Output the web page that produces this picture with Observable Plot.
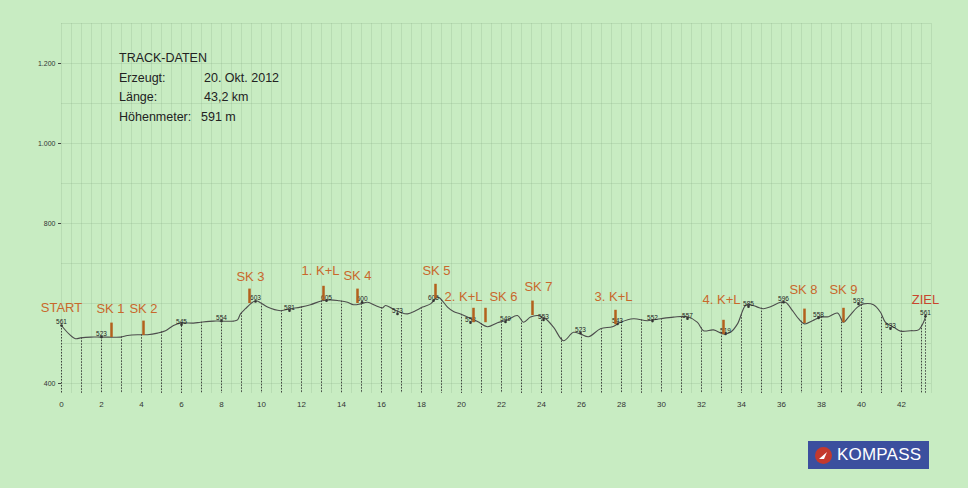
<!DOCTYPE html>
<html>
<head>
<meta charset="utf-8">
<script src="https://cdn.jsdelivr.net/npm/d3@7"></script>
<script src="https://cdn.jsdelivr.net/npm/@observablehq/plot@0.6"></script>
<style>
  html, body { margin: 0; padding: 0; background: #c8ecc2; }
  body { width: 968px; height: 488px; position: relative; overflow: hidden; font-family: "Liberation Sans", Arial, sans-serif; }
  #chart { position: absolute; left: 0; top: 0; }
  .info { position: absolute; left: 119px; top: 48px; width: 220px; color: #222; font-size: 12.5px; line-height: 20px; white-space: nowrap; }
  .info .row { position: relative; height: 19.5px; }
  .info .v { position: absolute; left: 85px; top: 0; white-space: nowrap; }
  .logo { position: absolute; left: 808px; top: 441px; width: 121px; height: 28px; background: #3b4f9e; color: #fff; }
  .logo svg { position: absolute; left: 6px; top: 5px; }
  .logo span { position: absolute; left: 29px; top: 4px; font-size: 17px; letter-spacing: 0.2px; white-space: nowrap; }
</style>
</head>
<body>
<div id="chart"></div>
<div class="info">
  <div class="row">TRACK-DATEN</div>
  <div class="row">Erzeugt:<span class="v">20. Okt. 2012</span></div>
  <div class="row">Länge:<span class="v">43,2 km</span></div>
  <div class="row">Höhenmeter:<span class="v" style="left:82px">591 m</span></div>
</div>
<div class="logo">
  <svg width="19" height="19" viewBox="0 0 19 19"><circle cx="9.5" cy="9.5" r="8.5" fill="#c4392d"/><path d="M5 13 L13 6 L10 13 Z" fill="#fff"/></svg>
  <span>KOMPASS</span>
</div>
<script>
// Elevation profile (km, m)
const profileKm = [0,0.37,0.7,0.95,1.45,1.95,2.35,2.95,3.3,3.8,4.3,4.8,5.2,5.6,5.95,6.6,6.95,7.6,7.95,8.6,8.8,8.95,9.2,9.45,9.7,9.95,10.3,10.95,11.45,11.95,12.45,13.03,13.45,13.85,14.3,14.6,14.95,15.3,15.7,16.05,16.2,16.55,16.95,17.3,17.7,18.05,18.45,18.8,18.95,19.3,19.6,19.95,20.3,20.8,21.3,21.8,22.3,22.8,23.1,23.45,23.8,24.2,24.6,25.1,25.6,25.95,26.35,26.95,27.55,27.95,28.6,29.3,29.95,30.6,31.3,31.8,32.1,32.6,33.1,33.45,33.8,34.2,34.45,34.8,35.1,35.45,35.95,36.2,36.55,36.85,37.15,37.55,37.95,38.35,38.8,39.1,39.35,39.8,40.1,40.6,40.95,41.2,41.6,41.95,42.45,42.85,43.1,43.2];
const profileElev = [545,524,512,514,516,516,516,516,520,522,522,526,532,545,551,551,553,556,556,556,559,574,587,599,607,602,591,582,587,591,597,607,609,607,603,597,599,603,595,589,595,587,578,574,582,591,599,616,612,591,580,574,566,555,542,552,559,570,553,566,570,562,541,507,528,524,517,537,542,553,562,557,562,566,567,553,532,534,524,528,549,595,597,591,587,592,603,603,582,562,549,557,566,567,576,553,566,591,599,597,578,553,541,531,532,534,553,567];

// Waypoint elevation labels
const wpKm    = [0,2,6,8,9.7,11.4,13.25,15.03,16.8,18.6,20.45,22.2,24.1,25.95,27.8,29.55,31.3,33.2,34.35,36.1,37.85,39.85,41.45,43.2];
const wpText  = ["561","523","545","554","603","581","605","600","573","605","552","549","553","523","543","552","557","519","585","596","558","592","533","561"];
const wpElev  = [553,524,555,564,613,590,615,611,582,615,560,562,567,534,557,564,570,532,600,611,572,607,545,576];

// Checkpoints (SK = Streckenkontrolle, K+L = Kontrolle + Labe)
const cpName     = ["SK 1","SK 2","SK 3","1. K+L","SK 4","SK 5","2. K+L","SK 6","SK 7","3. K+L","4. K+L","SK 8","SK 9"];
const cpKm       = [2.5,4.1,9.4,13.1,14.8,18.7,20.6,21.2,23.55,27.7,33.1,37.15,39.1];
const cpElev     = [515,520,600,607,600,612,552,552,570,547,522,550,552];
const cpLabelKm  = [2.45,4.1,9.45,12.95,14.8,18.75,20.1,22.1,23.85,27.6,33.0,37.1,39.1];
const cpLabelElev= [587,587,667,682,670,682,617,617,642,616,610,634,634];

// Start / finish
const endName = ["START","ZIEL"];
const endKm   = [0,43.2];
const endElev = [589,608];

// Axis ticks
const yTicks = [400,800,1000,1200];
const xTicks = d3.range(0, 43, 2);

const profile = profileKm.map((k,i) => ({km:k, elev:profileElev[i]}));
const waypoints = wpKm.map((k,i) => ({km:k, text:wpText[i], elev:wpElev[i]}));
const checkpoints = cpName.map((n,i) => ({name:n, km:cpKm[i], elev:cpElev[i], lkm:cpLabelKm[i], lelev:cpLabelElev[i]}));
const ends = endName.map((n,i) => ({name:n, km:endKm[i], elev:endElev[i]}));

const interp = d3.scaleLinear().domain(profileKm).range(profileElev);
const drops = d3.range(0, 44, 1).concat([43.2]);

const chart = Plot.plot({
  width: 968,
  height: 488,
  marginLeft: 61,
  marginRight: 37,
  marginTop: 23,
  marginBottom: 95,
  x: {domain: [0, 43.5]},
  y: {domain: [375, 1300]},
  style: {background: "transparent", fontFamily: "Liberation Sans, Arial, sans-serif", color: "#333"},
  marks: [
    Plot.ruleX(d3.range(0, 43.51, 0.5), {y1: 375, y2: 1300, stroke: "#6f906c", strokeOpacity: 0.22, strokeWidth: 0.8}),
    Plot.ruleY(d3.range(400, 1301, 100), {x1: 0, x2: 43.5, stroke: "#6f906c", strokeOpacity: 0.22, strokeWidth: 0.8}),
    Plot.ruleX(drops, {x: d => d, y1: d => interp(d), y2: 375, stroke: "#333", strokeWidth: 0.9, strokeDasharray: "1.5,1.5"}),
    Plot.line(profile, {x: "km", y: "elev", stroke: "#4d4d4d", strokeWidth: 1.1, curve: "catmull-rom"}),
    Plot.dot(waypoints, {x: "km", y: d => d.elev - 8, r: 1.3, fill: "#333", stroke: "none"}),
    Plot.text(waypoints, {x: "km", y: "elev", text: "text", fontSize: 6.5, fill: "#222"}),
    Plot.ruleX(checkpoints, {x: "km", y1: "elev", y2: d => d.elev + 36, stroke: "#b3611d", strokeWidth: 2.5}),
    Plot.text(checkpoints, {x: "lkm", y: "lelev", text: "name", fontSize: 13, fill: "#c8682c"}),
    Plot.text(ends, {x: "km", y: "elev", text: "name", fontSize: 13, fill: d => d.name === "ZIEL" ? "#c8462e" : "#c8682c"}),
    Plot.axisY(yTicks, {tickFormat: d => d3.format(",")(d).replace(",", "."), fontSize: 7, tickSize: 3, tickPadding: 3, label: null, stroke: "#444"}),
    Plot.axisX(xTicks, {tickSize: 0, tickPadding: 8, fontSize: 8, label: null})
  ]
});
document.getElementById("chart").appendChild(chart);
</script>
</body>
</html>
